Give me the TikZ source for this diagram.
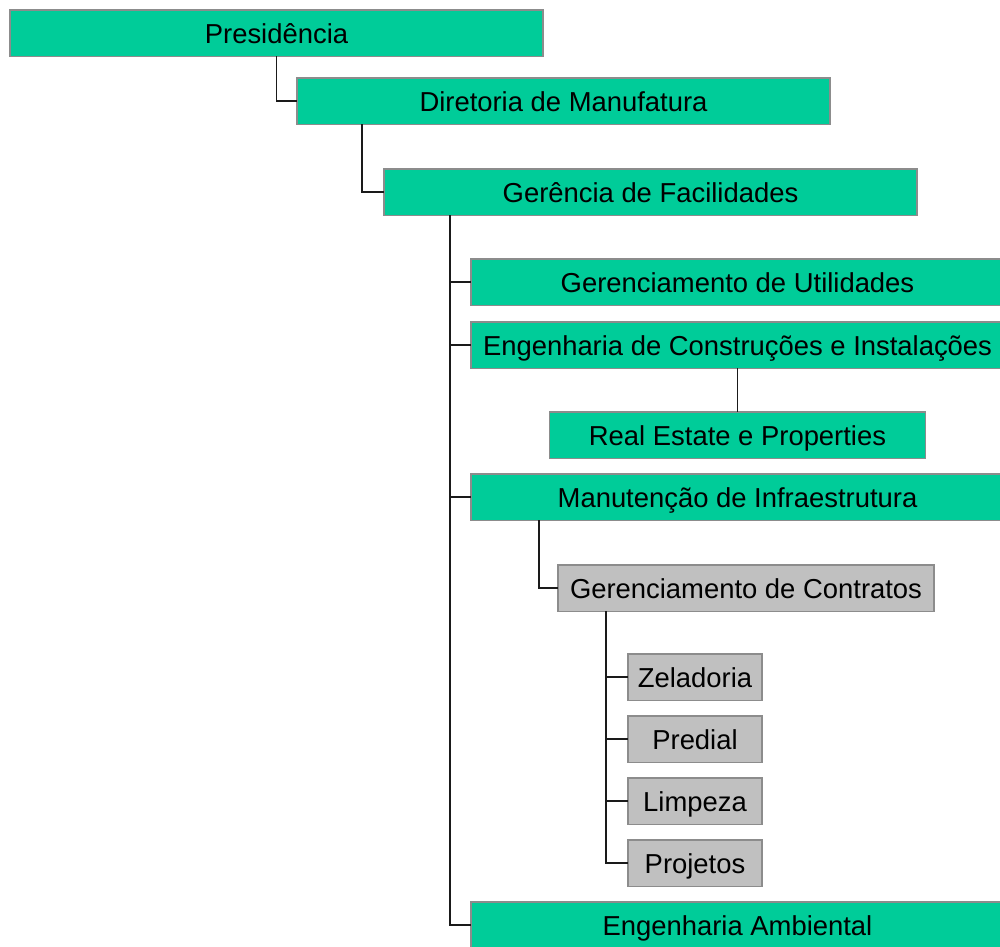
\documentclass[tikz,border=0pt]{standalone}
\usepackage{fontspec}
\setmainfont{Liberation Sans}
\usetikzlibrary{positioning}
\definecolor{verde}{HTML}{00CC99}
\definecolor{cinza}{HTML}{C0C0C0}
\definecolor{borda}{HTML}{8C8C8C}
\definecolor{linha}{HTML}{1A1A1A}
\tikzset{
  caixa/.style={rectangle,draw=borda,line width=0.8pt,fill=verde,inner sep=0pt,outer sep=0pt,
    minimum height=0.93cm,text height=12pt,text depth=0.8pt,
    font=\fontsize{15.6}{18}\selectfont},
  larga/.style={caixa,minimum width=10.66cm},
  media/.style={caixa,minimum width=7.52cm},
  curta/.style={caixa,minimum width=2.68cm},
  cinzenta/.style={fill=cinza},
  liga/.style={draw=linha,line width=1pt}
}
\begin{document}
\begin{tikzpicture}
  \clip (0,0) rectangle (20cm,-18.94cm);
  \node(pres)[larga,anchor=north west] at (0.2,-0.2){Presidência};
  \node(dir)[larga,below right=0.43cm and 5.74cm of pres.south west]{Diretoria de Manufatura};
  \node(ger)[larga,below right=0.89cm and 1.74cm of dir.south west]{Gerência de Facilidades};
  \node(util)[larga,below right=0.87cm and 1.74cm of ger.south west]{Gerenciamento de Utilidades};
  \node(eng)[larga,below right=0.33cm and 0cm of util.south west]{Engenharia de Construções e Instalações};
  \node(real)[media,below=0.87cm of eng]{Real Estate e Properties};
  \node(manut)[larga,below right=2.11cm and 0cm of eng.south west]{Manutenção de Infraestrutura};
  \node(contr)[media,cinzenta,below right=0.89cm and 1.74cm of manut.south west]{Gerenciamento de Contratos};
  \node(zel)[curta,cinzenta,below right=0.85cm and 1.4cm of contr.south west]{Zeladoria};
  \node(pred)[curta,cinzenta,below=0.31cm of zel]{Predial};
  \node(limp)[curta,cinzenta,below=0.31cm of pred]{Limpeza};
  \node(proj)[curta,cinzenta,below=0.31cm of limp]{Projetos};
  \node(amb)[larga,below right=0.31cm and -3.14cm of proj.south west]{Engenharia Ambiental};
\draw[liga](pres.south) |- (dir.west);
\draw[liga]([xshift=1.3cm]dir.south west) |- (ger.west);
\coordinate(gtronco) at ([xshift=1.32cm]ger.south west);
\draw[liga](gtronco) |- (amb.west);
\draw[liga](gtronco |- util.west) -- (util.west);
\draw[liga](gtronco |- eng.west) -- (eng.west);
\draw[liga](gtronco |- manut.west) -- (manut.west);
\draw[liga](real.north) -- (real.north |- eng.south);
\draw[liga]([xshift=1.36cm]manut.south west) |- (contr.west);
\coordinate(ctronco) at ([xshift=0.96cm]contr.south west);
\draw[liga](ctronco) |- (proj.west);
\draw[liga](ctronco |- zel.west) -- (zel.west);
\draw[liga](ctronco |- pred.west) -- (pred.west);
\draw[liga](ctronco |- limp.west) -- (limp.west);
\end{tikzpicture}
\end{document}
